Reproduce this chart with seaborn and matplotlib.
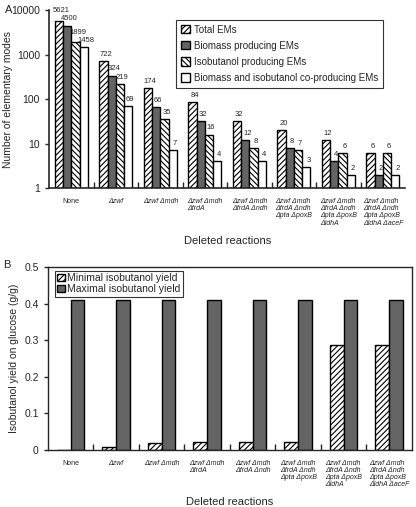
import matplotlib
matplotlib.use("Agg")
import matplotlib.pyplot as plt
from matplotlib.patches import Patch
from matplotlib.ticker import NullLocator
import pandas as pd
import seaborn as sns

deletions = [
    "None",
    "Δzwf",
    "Δzwf Δmdh",
    "Δzwf Δmdh\nΔfrdA",
    "Δzwf Δmdh\nΔfrdA Δndh",
    "Δzwf Δmdh\nΔfrdA Δndh\nΔpta ΔpoxB",
    "Δzwf Δmdh\nΔfrdA Δndh\nΔpta ΔpoxB\nΔldhA",
    "Δzwf Δmdh\nΔfrdA Δndh\nΔpta ΔpoxB\nΔldhA ΔaceF",
]

em_types = ["Total EMs", "Biomass producing EMs", "Isobutanol producing EMs",
            "Biomass and isobutanol co-producing EMs"]
total_ems = [5621, 722, 174, 84, 32, 20, 12, 6]
biomass_ems = [4500, 324, 66, 32, 12, 8, 4, 2]
isobutanol_ems = [1899, 219, 35, 16, 8, 7, 6, 6]
coproducing_ems = [1458, 69, 7, 4, 4, 3, 2, 2]

yield_types = ["Minimal isobutanol yield", "Maximal isobutanol yield"]
min_yield = [0.001, 0.008, 0.018, 0.021, 0.021, 0.021, 0.287, 0.287]
max_yield = [0.41, 0.41, 0.41, 0.41, 0.41, 0.41, 0.41, 0.41]

GREY = "#646464"


def long_table(names, series, colname):
    rows = []
    for name, vals in zip(names, series):
        for d, v in zip(deletions, vals):
            rows.append({"deletion": d, "kind": name, colname: v})
    return pd.DataFrame(rows)


def draw_bars(ax, df, y, levels, colors, hatches, width):
    sns.barplot(data=df, x="deletion", y=y, hue="kind", order=deletions,
                hue_order=levels, palette=colors, saturation=1, width=width,
                gap=0, edgecolor="black", linewidth=1.0, errorbar=None,
                legend=False, ax=ax)
    for cont, h in zip(ax.containers, hatches):
        for bar in cont:
            bar.set_hatch(h)
    handles = [Patch(facecolor=c, edgecolor="black", hatch=h, linewidth=1.0)
               for c, h in zip(colors, hatches)]
    return handles


def label_counts(ax):
    # value labels above bars; big numbers get stacked so they don't collide
    lift = 10 ** 0.15
    gap = 10 ** 0.19
    bars = list(zip(*[list(c) for c in ax.containers]))
    for group in bars:
        prev = None
        placed = []
        for bar in reversed(group):
            val = bar.get_height()
            y = val * lift
            if prev is not None and len("%d" % val) >= 3:
                y = max(y, prev * gap)
            prev = y
            placed.append((bar, val, y))
        for bar, val, y in placed:
            ax.text(bar.get_x() + bar.get_width() * 0.75, y, "%d" % val,
                    fontsize=5.5, ha="center", va="center", clip_on=False)


def style_xaxis(ax, labelpad):
    ax.set_xlim(-0.5, len(deletions) - 0.5)
    ax.set_xticks(range(len(deletions)))
    ax.set_xticklabels(deletions, fontsize=5, multialignment="left", va="top",
                       linespacing=1.05)
    for i, lab in enumerate(ax.get_xticklabels()):
        if i > 0:
            lab.set_fontstyle("italic")
    ax.tick_params(axis="x", which="major", length=0, pad=7)
    ax.set_xticks([i + 0.5 for i in range(len(deletions) - 1)], minor=True)
    ax.tick_params(axis="x", which="minor", direction="in", length=4, width=1)
    ax.set_xlabel("Deleted reactions", fontsize=8, labelpad=labelpad)


def main():
    sns.set_style("ticks")
    plt.rcParams["font.family"] = ["Liberation Sans", "DejaVu Sans"]
    plt.rcParams["hatch.linewidth"] = 0.8

    fig = plt.figure(figsize=(4.16, 5.07), dpi=100)
    ax_a = fig.add_axes([0.118, 0.629, 0.856, 0.351])
    ax_b = fig.add_axes([0.115, 0.1124, 0.875, 0.361])

    # panel A: elementary modes
    df_a = long_table(em_types, [total_ems, biomass_ems, isobutanol_ems, coproducing_ems], "modes")
    colors_a = ["white", GREY, "white", "white"]
    hatches_a = ["//////", "", "\\\\\\\\\\\\", ""]
    handles_a = draw_bars(ax_a, df_a, "modes", em_types, colors_a, hatches_a, 0.74)
    ax_a.set_yscale("log")
    ax_a.set_ylim(1, 10000)
    ax_a.set_yticks([1, 10, 100, 1000, 10000])
    ax_a.set_yticklabels(["1", "10", "100", "1000", "10000"], fontsize=7.5)
    ax_a.yaxis.set_minor_locator(NullLocator())
    ax_a.tick_params(axis="y", direction="out", length=3, width=1)
    label_counts(ax_a)
    sns.despine(ax=ax_a)
    for sp in ax_a.spines.values():
        sp.set_linewidth(1.2)
    ax_a.set_ylabel("Number of elementary modes", fontsize=7.5, labelpad=-1)
    style_xaxis(ax_a, 7)
    leg = ax_a.legend(handles_a, em_types, loc="upper left", bbox_to_anchor=(0.357, 0.945),
                      fontsize=7, frameon=True, fancybox=False, edgecolor="black",
                      handlelength=0.9, handleheight=0.9, handletextpad=0.4,
                      labelspacing=0.62, borderpad=0.5, borderaxespad=0)
    leg.get_frame().set_linewidth(0.8)

    # panel B: isobutanol yields
    df_b = long_table(yield_types, [min_yield, max_yield], "yield")
    colors_b = ["white", GREY]
    hatches_b = ["//////", ""]
    handles_b = draw_bars(ax_b, df_b, "yield", yield_types, colors_b, hatches_b, 0.6)
    ax_b.set_ylim(0, 0.5)
    ax_b.set_yticks([0, 0.1, 0.2, 0.3, 0.4, 0.5])
    ax_b.set_yticklabels(["0", "0.1", "0.2", "0.3", "0.4", "0.5"], fontsize=7.5)
    ax_b.tick_params(axis="y", direction="out", length=3, width=1)
    for sp in ax_b.spines.values():
        sp.set_linewidth(1.0)
    ax_b.set_ylabel("Isobutanol yield on glucose (g/g)", fontsize=7.5, labelpad=4)
    style_xaxis(ax_b, 6)
    leg = ax_b.legend(handles_b, yield_types, loc="upper left", bbox_to_anchor=(0.019, 0.98),
                      fontsize=7.5, frameon=True, fancybox=False, edgecolor="black",
                      handlelength=0.7, handleheight=0.7, handletextpad=0.2,
                      labelspacing=0.1, borderpad=0.25, borderaxespad=0)
    leg.get_frame().set_linewidth(0.8)

    fig.text(0.012, 0.975, "A", fontsize=8)
    fig.text(0.008, 0.472, "B", fontsize=8)

    fig.savefig("out.png", dpi=100)


if __name__ == "__main__":
    main()
